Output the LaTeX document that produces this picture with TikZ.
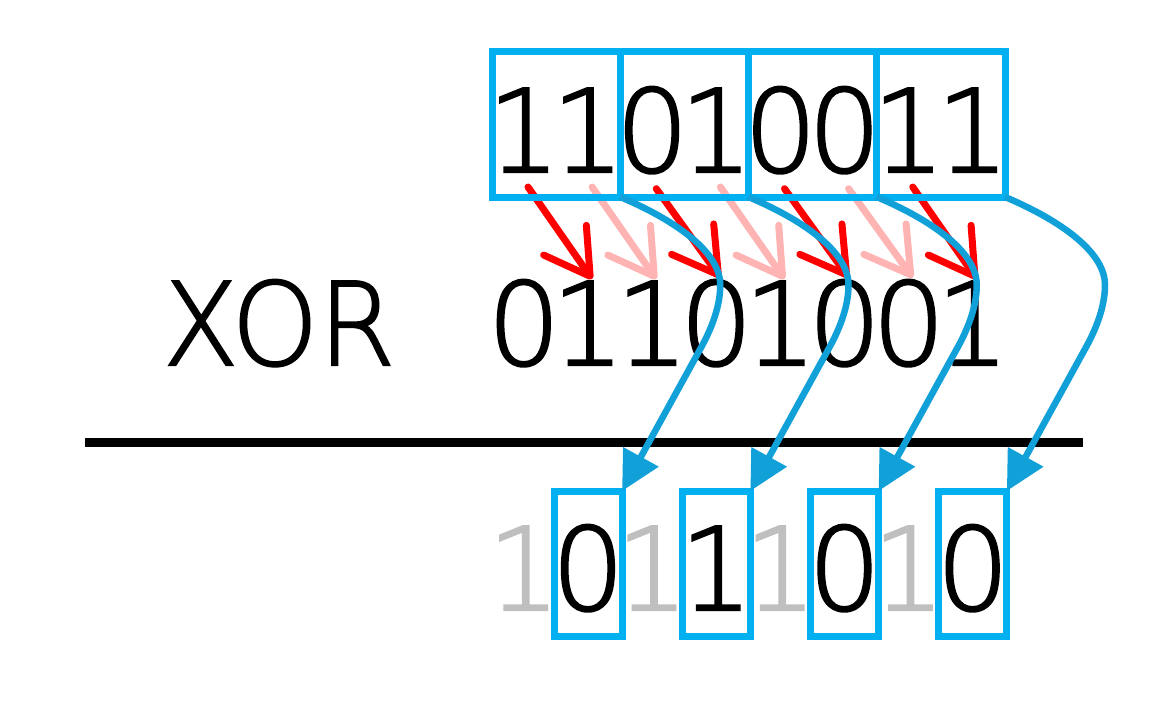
\documentclass[tikz,border=0pt]{standalone}
\usepackage{fontspec}
\setmainfont{DejaVu Sans ExtraLight}[FakeBold=1.8]
\usetikzlibrary{arrows.meta,calc}
\definecolor{boxblue}{HTML}{00B0F0}
\definecolor{curveblue}{HTML}{11A0D8}
\definecolor{xred}{HTML}{FF0000}
\definecolor{xpink}{HTML}{FFB4B4}
\definecolor{dimgray}{HTML}{BFBFBF}
\begin{document}
\begin{tikzpicture}[x=1pt,y=-1pt,
  digit/.style={inner sep=0pt,outer sep=0pt,anchor=base,font=\fontsize{115}{120}\selectfont},
  cell/.style={draw=boxblue,line width=7pt,minimum width=128.25pt,minimum height=146pt,inner sep=0pt,outer sep=0pt},
  slot/.style={draw=boxblue,line width=7pt,minimum width=68pt,minimum height=145pt,inner sep=0pt,outer sep=0pt},
  shiftarrow/.style={line width=7pt,line cap=round,-{Straight Barb[length=44pt,width=52pt,line cap=round,line join=round]}},
  carry/.style={draw=curveblue,line width=6.5pt,-{Triangle[length=39pt,width=39pt]}},
  rule/.style={line width=9pt,draw=black}
]
\useasboundingbox (0,0) rectangle (1171,710);
% digits
\foreach \d [count=\i from 0] in {1,1,0,1,0,0,1,1}
  \node[digit] (t\i) at (524+64.125*\i,172) {\d};
\foreach \d [count=\i from 0] in {0,1,1,0,1,0,0,1}
  \node[digit] (x\i) at (524+64.125*\i,365) {\d};
\foreach \d [count=\i from 0] in {1,0,1,1,1,0,1,0}{
  \ifodd\i
    \node[digit] (b\i) at (524+64.125*\i,610) {\d};
  \else
    \node[digit,text=dimgray] (b\i) at (524+64.125*\i,610) {\d};
  \fi
}
\node[digit,xscale=0.96] (xorlabel) at (279,365) {XOR};
% shift arrows
\foreach \i in {1,3,5}{
  \pgfmathtruncatemacro{\j}{\i+1}
  \draw[shiftarrow,draw=xpink] ([xshift=4pt,yshift=-15pt]t\i.south) -- ([xshift=4pt,yshift=2pt]x\j.north);
}
\foreach \i in {0,2,4,6}{
  \pgfmathtruncatemacro{\j}{\i+1}
  \draw[shiftarrow,draw=xred] ([xshift=4pt,yshift=-15pt]t\i.south) -- ([xshift=4pt,yshift=2pt]x\j.north);
}
% boxes
\foreach \k in {0,...,3}
  \node[cell] (c\k) at (556.125+128.25*\k,124) {};
\foreach \k in {0,...,3}
  \node[slot] (r\k) at (588.125+128.25*\k,563.5) {};
% rule
\coordinate (ruleL) at (85,442);
\coordinate (ruleR) at (1083,442);
\draw[rule] (ruleL) -- (ruleR);
% carry curves
\foreach \k in {0,...,3}{
  \draw[carry] (c\k.south east)
    .. controls ($(c\k.south east)+(50,21)$) and ($(c\k.south east)+(100,53)$) .. ($(c\k.south east)+(100,88)$)
    .. controls ($(c\k.south east)+(100,112)$) and ($(c\k.south east)+(89,136)$) .. ($(c\k.south east)+(80,152)$)
    -- (r\k.north east);
}
\end{tikzpicture}
\end{document}
